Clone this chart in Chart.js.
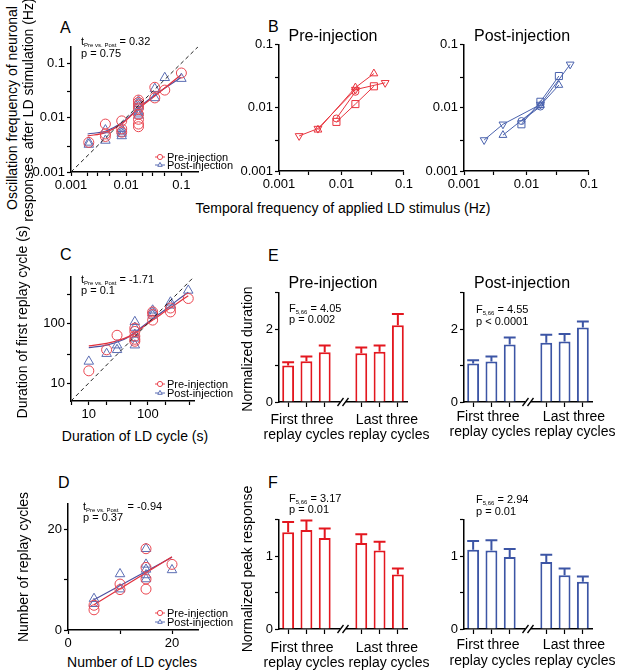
<!DOCTYPE html>
<html>
<head>
<meta charset="utf-8">
<script src="https://cdn.jsdelivr.net/npm/chart.js@4.4.1/dist/chart.umd.min.js"></script>
<style>
  body { margin: 0; width: 617px; height: 672px; overflow: hidden; background: #fff; position: relative;
         font-family: 'Liberation Sans', Arial, Helvetica, sans-serif; color: #000; }
  .t { position: absolute; white-space: nowrap; line-height: 1; }
  .t sub { font-size: 6px; vertical-align: -2px; line-height: 0; }
  .box { position: absolute; }
</style>
</head>
<body>
<script>
// ---- A: oscillation frequency after LD stimulation vs stimulus frequency (Hz)
const aPreX  = [0.0021, 0.0042, 0.0042, 0.0042, 0.0083, 0.0083, 0.0083, 0.0167, 0.0167, 0.0167, 0.0167, 0.0167, 0.0167, 0.0167, 0.0167, 0.033, 0.033, 0.05, 0.1];
const aPreY  = [0.0035, 0.0076, 0.005, 0.0045, 0.0087, 0.0062, 0.0054, 0.021, 0.019, 0.017, 0.015, 0.0115, 0.0093, 0.0076, 0.0068, 0.036, 0.023, 0.032, 0.066];
const aPostX = [0.0021, 0.0021, 0.0042, 0.0042, 0.0083, 0.0083, 0.0083, 0.0083, 0.0167, 0.0167, 0.0167, 0.0167, 0.0167, 0.0167, 0.033, 0.033, 0.05, 0.1];
const aPostY = [0.0032, 0.0035, 0.0059, 0.0038, 0.0062, 0.0056, 0.0051, 0.0046, 0.02, 0.018, 0.016, 0.013, 0.012, 0.011, 0.034, 0.023, 0.054, 0.052];
const aFitX    = [0.002, 0.0042, 0.0083, 0.0167, 0.033, 0.1];
const aFitPre  = [0.0046, 0.0053, 0.0077, 0.0145, 0.025, 0.062];
const aFitPost = [0.005, 0.0056, 0.008, 0.015, 0.026, 0.055];
const aUnity   = [0.001, 0.2];
const aTicks   = [0.001, 0.002, 0.003, 0.005, 0.01, 0.02, 0.03, 0.05, 0.1];
const aTicksY  = [0.001, 0.003, 0.01, 0.03, 0.1];
const aLabels  = [0.001, 0.01, 0.1];

// ---- B: individual neurons, one marker per neuron
const bPreDownX = [0.0021, 0.0042, 0.0167, 0.05],  bPreDownY = [0.0036, 0.0047, 0.0195, 0.025];
const bPreUpX   = [0.0042, 0.0167, 0.033],         bPreUpY   = [0.0045, 0.021, 0.035];
const bPreSqX   = [0.0083, 0.0167, 0.033],         bPreSqY   = [0.006, 0.0115, 0.022];
const bPreCirX  = [0.0083, 0.0167],                bPreCirY  = [0.0068, 0.018];
const bPostDownX = [0.0021, 0.0042, 0.0167, 0.05], bPostDownY = [0.0031, 0.0055, 0.0113, 0.049];
const bPostUpX   = [0.0042, 0.0167, 0.033],        bPostUpY   = [0.0037, 0.011, 0.023];
const bPostSqX   = [0.0083, 0.0167, 0.033],        bPostSqY   = [0.0055, 0.0125, 0.032];
const bPostCirX  = [0.0083, 0.0167],               bPostCirY  = [0.0062, 0.0105];
const bTicks  = [0.001, 0.003, 0.01, 0.03, 0.1];
const bLabels = [0.001, 0.01, 0.1];

// ---- C: duration of first replay cycle vs LD cycle duration (s)
const cPreX  = [10, 20, 30, 60, 60, 60, 60, 60, 120, 120, 120, 240, 240, 480];
const cPreY  = [16, 36, 63, 83, 73, 61, 54, 50, 155, 140, 113, 155, 180, 260];
const cPostX = [10, 20, 30, 30, 60, 60, 60, 60, 60, 120, 120, 120, 240, 240, 480];
const cPostY = [23, 31, 43, 36, 106, 85, 65, 56, 43, 165, 150, 136, 225, 200, 355];
const cFitX    = [10, 20, 40, 60, 100, 200, 300, 480];
const cFitPre  = [42, 46, 56, 68, 100, 160, 210, 290];
const cFitPost = [39, 43, 54, 70, 104, 172, 235, 330];
const cUnity   = [5, 600];
const cTicksX  = [5, 10, 20, 50, 100, 200, 500];
const cTicksY  = [10, 30, 100, 300];
const cLabels  = [10, 100];

// ---- D: number of replay cycles vs number of LD cycles
const dPreX  = [5, 5, 10, 10, 15, 15, 15, 15, 20];
const dPreY  = [4.0, 4.9, 9.1, 8.0, 16.1, 12.4, 10.1, 8.1, 13.0];
const dPostX = [5, 5, 10, 10, 15, 15, 15, 15, 15, 20];
const dPostY = [6.2, 5.2, 11.1, 8.1, 16.1, 13.0, 12.0, 10.9, 10.1, 11.9];
const dFitX    = [5, 20];
const dFitPre  = [5.0, 14.5];
const dFitPost = [6.0, 14.4];
const dTicks  = [0, 10, 20];
const dLabels = [0, 20];

// ---- E / F: first three and last three replay cycles (gap in the middle)
const barCats   = ['first 1', 'first 2', 'first 3', '', 'last 1', 'last 2', 'last 3'];
const ePreMean  = [1.0, 1.12, 1.37, null, 1.34, 1.38, 2.11];
const ePreErr   = [1.09, 1.25, 1.55, null, 1.5, 1.55, 2.42];
const ePostMean = [1.06, 1.11, 1.58, null, 1.63, 1.66, 2.05];
const ePostErr  = [1.15, 1.25, 1.77, null, 1.85, 1.87, 2.21];
const fPreMean  = [1.33, 1.36, 1.25, null, 1.18, 1.08, 0.75];
const fPreErr   = [1.47, 1.49, 1.38, null, 1.30, 1.20, 0.83];
const fPostMean = [1.09, 1.08, 0.99, null, 0.92, 0.74, 0.65];
const fPostErr  = [1.21, 1.22, 1.10, null, 1.02, 0.83, 0.72];
const eTicks = [0, 1, 2, 3],       eLabels = [0, 2];
const fTicks = [0, 0.5, 1, 1.5],   fLabels = [0, 1];

const FONT = "'Liberation Sans', Arial, Helvetica, sans-serif";
Chart.defaults.font.family = FONT;
Chart.defaults.color = '#000';

const RED = '#ea4650', BLUE = '#5b6db3';
const RED_LINE = '#e2303c', BLUE_LINE = '#4d4f9f';
const RED_BAR = '#e3171f', BLUE_BAR = '#3c55a5';

const pts = (xs, ys) => xs.map((x, i) => ({ x, y: ys[i] }));

function marks(data, color, style, r, rot) {
  return { data, borderColor: color, backgroundColor: 'rgba(0,0,0,0)', pointStyle: style,
           pointRadius: r, pointRotation: rot || 0, pointBorderWidth: 1, showLine: false };
}
function fit(data, color) {
  return { data, borderColor: color, borderWidth: 1.2, pointRadius: 0, showLine: true, tension: 0.35 };
}
function unity(data) {
  return { data, borderColor: '#222', borderWidth: 1, borderDash: [4, 3], pointRadius: 0, showLine: true };
}
function series(data, color, style, r, rot) {
  return { data, borderColor: color, backgroundColor: 'rgba(0,0,0,0)', borderWidth: 1, pointStyle: style,
           pointRadius: r, pointRotation: rot || 0, pointBorderWidth: 1, showLine: true };
}

function axis(type, min, max, ticks, labels) {
  return {
    type, min, max, offset: false,
    afterBuildTicks: s => { s.ticks = ticks.map(v => ({ value: v })); },
    grid: { display: true, drawOnChartArea: false, drawTicks: true, tickLength: 4, tickWidth: 1.2, tickColor: '#000' },
    border: { display: true, color: '#000', width: 1.5 },
    ticks: { color: '#000', padding: 2, autoSkip: false, maxRotation: 0, font: { family: FONT, size: 13 },
             callback: v => labels.includes(v) ? String(v) : '' }
  };
}
function catAxis() {
  return {
    type: 'category', offset: true,
    grid: { display: true, offset: false, drawOnChartArea: false, drawTicks: true, tickLength: 5, tickWidth: 1.2,
            tickColor: c => c.index === 3 ? 'rgba(0,0,0,0)' : '#000' },
    border: { display: true, color: '#000', width: 1.5 },
    ticks: { callback: () => '', autoSkip: false, maxRotation: 0 }
  };
}

// area = [left, right, top, bottom] of the plot area in page pixels
function makeChart(area, cfg) {
  const padL = 46, padB = 24, padT = 8, padR = 8;
  const w = area[1] - area[0] + padL + padR, h = area[3] - area[2] + padT + padB;
  const wrap = document.createElement('div');
  wrap.className = 'box';
  wrap.style.left = (area[0] - padL) + 'px';
  wrap.style.top = (area[2] - padT) + 'px';
  wrap.style.width = w + 'px';
  wrap.style.height = h + 'px';
  const cv = document.createElement('canvas');
  cv.width = w; cv.height = h;
  cv.style.width = w + 'px'; cv.style.height = h + 'px';
  wrap.appendChild(cv);
  document.body.appendChild(wrap);
  cfg.options.responsive = false;
  cfg.options.animation = false;
  cfg.options.layout = { padding: { top: padT, right: padR, left: 0, bottom: 0 } };
  cfg.options.scales.x.afterFit = s => { s.height = padB; };
  cfg.options.scales.y.afterFit = s => { s.width = padL; };
  cfg.options.plugins = { legend: { display: false }, tooltip: { enabled: false } };
  return new Chart(cv, cfg);
}

// little legend samples (line + marker); positions in page pixels
function keyPlugin(entries) {
  return {
    id: 'key',
    afterDraw(chart) {
      const ctx = chart.ctx;
      const ox = parseFloat(chart.canvas.parentNode.style.left);
      const oy = parseFloat(chart.canvas.parentNode.style.top);
      entries.forEach(([color, style, x, y]) => {
        ctx.save();
        ctx.strokeStyle = color; ctx.fillStyle = '#fff'; ctx.lineWidth = 1;
        ctx.beginPath(); ctx.moveTo(x - 5 - ox, y - oy); ctx.lineTo(x + 5 - ox, y - oy); ctx.stroke();
        Chart.helpers.drawPoint(ctx, { pointStyle: style, radius: 2.6, rotation: 0, borderWidth: 1 }, x - ox, y - oy);
        ctx.restore();
      });
    }
  };
}

const errPlugin = {
  id: 'err',
  afterDatasetsDraw(chart) {
    const ctx = chart.ctx, ys = chart.scales.y;
    chart.data.datasets.forEach((ds, i) => {
      chart.getDatasetMeta(i).data.forEach((bar, j) => {
        const e = ds.err[j];
        if (e == null) return;
        const top = ys.getPixelForValue(e), hw = bar.width / 2;
        ctx.save();
        ctx.strokeStyle = ds.borderColor; ctx.lineWidth = 2;
        ctx.beginPath();
        ctx.moveTo(bar.x, bar.y); ctx.lineTo(bar.x, top);
        ctx.moveTo(bar.x - hw, top); ctx.lineTo(bar.x + hw, top);
        ctx.stroke();
        ctx.restore();
      });
    });
  }
};

const breakPlugin = {
  id: 'brk',
  afterDraw(chart) {
    const ctx = chart.ctx;
    const x = chart.scales.x.getPixelForValue(3), y = chart.chartArea.bottom;
    ctx.save();
    ctx.fillStyle = '#fff';
    ctx.fillRect(x - 3, y - 2, 6, 4);
    ctx.strokeStyle = '#000'; ctx.lineWidth = 1.3;
    ctx.beginPath();
    [-2.5, 2.5].forEach(d => { ctx.moveTo(x + d - 3, y + 4); ctx.lineTo(x + d + 3, y - 4); });
    ctx.stroke();
    ctx.restore();
  }
};

// ---- A
makeChart([71, 198, 45, 172], {
  type: 'scatter',
  data: { datasets: [
    unity(pts(aUnity, aUnity)),
    marks(pts(aPreX, aPreY), RED, 'circle', 5),
    marks(pts(aPostX, aPostY), BLUE, 'triangle', 5.5),
    fit(pts(aFitX, aFitPre), RED_LINE),
    fit(pts(aFitX, aFitPost), BLUE_LINE)
  ] },
  options: { scales: { x: axis('logarithmic', 0.001, 0.2, aTicks, aLabels),
                       y: axis('logarithmic', 0.001, 0.2, aTicksY, aLabels) } },
  plugins: [keyPlugin([[RED, 'circle', 160, 157], [BLUE, 'triangle', 160, 165]])]
});

// ---- B
function bChart(area, color, s) {
  makeChart(area, {
    type: 'scatter',
    data: { datasets: [
      series(pts(s[0], s[1]), color, 'triangle', 4.5, 180),
      series(pts(s[2], s[3]), color, 'triangle', 4.5, 0),
      series(pts(s[4], s[5]), color, 'rect', 5, 0),
      series(pts(s[6], s[7]), color, 'circle', 3.5, 0)
    ] },
    options: { scales: { x: axis('logarithmic', 0.001, 0.1, bTicks, bLabels),
                         y: axis('logarithmic', 0.001, 0.1, bTicks, bLabels) } }
  });
}
bChart([279, 407, 43, 171], '#e8333d',
  [bPreDownX, bPreDownY, bPreUpX, bPreUpY, bPreSqX, bPreSqY, bPreCirX, bPreCirY]);
bChart([464, 592, 43, 171], '#4a62ad',
  [bPostDownX, bPostDownY, bPostUpX, bPostUpY, bPostSqX, bPostSqY, bPostCirX, bPostCirY]);

// ---- C
makeChart([71, 194, 275, 401], {
  type: 'scatter',
  data: { datasets: [
    unity(pts(cUnity, cUnity)),
    marks(pts(cPreX, cPreY), RED, 'circle', 5),
    marks(pts(cPostX, cPostY), BLUE, 'triangle', 5.5),
    fit(pts(cFitX, cFitPre), RED_LINE),
    fit(pts(cFitX, cFitPost), BLUE_LINE)
  ] },
  options: { scales: { x: axis('logarithmic', 5, 600, cTicksX, cLabels),
                       y: axis('logarithmic', 5, 600, cTicksY, cLabels) } },
  plugins: [keyPlugin([[RED, 'circle', 160, 384], [BLUE, 'triangle', 160, 393]])]
});

// ---- D
makeChart([68, 198, 502, 630], {
  type: 'scatter',
  data: { datasets: [
    marks(pts(dPreX, dPreY), RED, 'circle', 5),
    marks(pts(dPostX, dPostY), BLUE, 'triangle', 5.5),
    fit(pts(dFitX, dFitPre), RED_LINE),
    fit(pts(dFitX, dFitPost), BLUE_LINE)
  ] },
  options: { scales: { x: axis('linear', 0, 25, dTicks, dLabels),
                       y: axis('linear', 0, 25, dTicks, dLabels) } },
  plugins: [keyPlugin([[RED, 'circle', 160, 613], [BLUE, 'triangle', 160, 622]])]
});

// ---- E / F
function barChart(area, means, errs, color, yMax, ticks, labels) {
  makeChart(area, {
    type: 'bar',
    data: { labels: barCats, datasets: [{
      data: means, err: errs, borderColor: color, backgroundColor: '#fff', borderWidth: 2,
      barPercentage: 0.65, categoryPercentage: 1, borderSkipped: 'bottom'
    }] },
    options: { scales: { x: catAxis(), y: axis('linear', 0, yMax, ticks, labels) } },
    plugins: [errPlugin, breakPlugin]
  });
}
barChart([279, 407, 291, 402], ePreMean, ePreErr, RED_BAR, 3, eTicks, eLabels);
barChart([464, 592, 291, 402], ePostMean, ePostErr, BLUE_BAR, 3, eTicks, eLabels);
barChart([279, 407, 518, 629], fPreMean, fPreErr, RED_BAR, 1.5, fTicks, fLabels);
barChart([464, 592, 518, 629], fPostMean, fPostErr, BLUE_BAR, 1.5, fTicks, fLabels);

// ---- text
function T(html, x, base, size, center) {
  const d = document.createElement('div');
  d.className = 't';
  d.innerHTML = html;
  d.style.fontSize = size + 'px';
  d.style.left = x + 'px';
  d.style.top = (base - 0.83 * size) + 'px';
  if (center) d.style.transform = 'translateX(-50%)';
  document.body.appendChild(d);
}
function R(html, cx, cy, size) {
  const d = document.createElement('div');
  d.className = 't';
  d.innerHTML = html;
  d.style.fontSize = size + 'px';
  d.style.left = cx + 'px';
  d.style.top = cy + 'px';
  d.style.transform = 'translate(-50%,-50%) rotate(-90deg)';
  document.body.appendChild(d);
}

[['A', 60, 33], ['B', 268, 32], ['C', 60, 260], ['D', 58, 488], ['E', 268, 261], ['F', 268, 488]]
  .forEach(([s, x, b]) => T(s, x, b, 16));

T('Pre-injection', 333, 41, 16, true);
T('Post-injection', 522, 41, 16, true);
T('Pre-injection', 333, 288, 16, true);
T('Post-injection', 522, 288, 16, true);

T('Temporal frequency of applied LD stimulus (Hz)', 343, 213, 14, true);
R('Oscillation frequency of neuronal', 12, 108, 14);
R('responses &nbsp;after LD stimulation (Hz)', 28, 110, 14);
R('Duration of first replay cycle (s)', 22, 322, 14);
R('Number of replay cycles', 23, 567, 14);
T('Duration of LD cycle (s)', 135, 441, 14, true);
T('Number of LD cycles', 132, 667, 14, true);
R('Normalized duration', 247, 349, 14);
R('Normalized peak response', 247, 569, 14);

[[302, 304, 387, 389, 424, 439], [488, 490, 574, 575, 421, 436],
 [302, 304, 387, 389, 652, 667], [488, 490, 574, 575, 649, 665]].forEach(g => {
  T('First three', g[0], g[4], 14, true);
  T('replay cycles', g[1], g[5], 14, true);
  T('Last three', g[2], g[4], 14, true);
  T('replay cycles', g[3], g[5], 14, true);
});

T('t<sub>Pre vs. Post</sub> = 0.32', 81, 45, 11);
T('p = 0.75', 81, 57, 11);
T('t<sub>Pre vs. Post</sub> = -1.71', 81, 283, 11);
T('p = 0.1', 81, 294, 11);
T('t<sub>Pre vs. Post</sub> &nbsp; = -0.94', 83, 510, 11);
T('p = 0.37', 83, 521, 11);
T('F<sub>5,66</sub> = 4.05', 289, 312, 11);
T('p = 0.002', 289, 323, 11);
T('F<sub>5,66</sub> = 4.55', 476, 313, 11);
T('p &lt; 0.0001', 476, 325, 11);
T('F<sub>5,66</sub> = 3.17', 289, 502, 11);
T('p = 0.01', 289, 513, 11);
T('F<sub>5,66</sub> = 2.94', 476, 503, 11);
T('p = 0.01', 476, 515, 11);

[['Pre-injection', 161], ['Post-injection', 169], ['Pre-injection', 388], ['Post-injection', 397],
 ['Pre-injection', 617], ['Post-injection', 626]].forEach(([s, b]) => T(s, 167, b, 11));
</script>
</body>
</html>
